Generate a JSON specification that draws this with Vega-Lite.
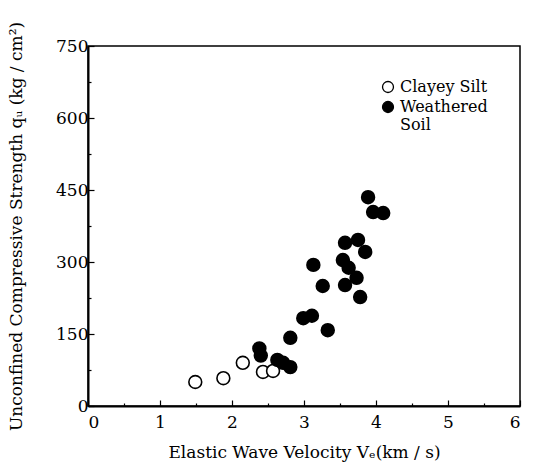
{
  "$schema": "https://vega.github.io/schema/vega-lite/v6.json",
  "autosize": "none",
  "width": 432,
  "height": 360,
  "padding": {"left": 88, "top": 46, "right": 13, "bottom": 66},
  "config": {
    "view": {"stroke": "black", "strokeWidth": 1.5},
    "font": "DejaVu Serif",
    "axis": {
      "domainColor": "black", "domainWidth": 2, "tickColor": "black", "tickWidth": 1.2,
      "labelColor": "black", "labelFont": "DejaVu Serif", "labelFontSize": 17,
      "titleColor": "black", "titleFont": "DejaVu Serif", "titleFontSize": 17, "titleFontWeight": "normal",
      "grid": false
    }
  },
  "data": {"values": [
    {"v": 1.49, "q": 50, "type": "Clayey Silt"},
    {"v": 1.88, "q": 58, "type": "Clayey Silt"},
    {"v": 2.15, "q": 90, "type": "Clayey Silt"},
    {"v": 2.43, "q": 71, "type": "Clayey Silt"},
    {"v": 2.57, "q": 73, "type": "Clayey Silt"},
    {"v": 2.38, "q": 120, "type": "Weathered Soil"},
    {"v": 2.40, "q": 105, "type": "Weathered Soil"},
    {"v": 2.63, "q": 96, "type": "Weathered Soil"},
    {"v": 2.71, "q": 90, "type": "Weathered Soil"},
    {"v": 2.81, "q": 81, "type": "Weathered Soil"},
    {"v": 2.81, "q": 142, "type": "Weathered Soil"},
    {"v": 2.99, "q": 183, "type": "Weathered Soil"},
    {"v": 3.11, "q": 188, "type": "Weathered Soil"},
    {"v": 3.33, "q": 158, "type": "Weathered Soil"},
    {"v": 3.13, "q": 294, "type": "Weathered Soil"},
    {"v": 3.26, "q": 250, "type": "Weathered Soil"},
    {"v": 3.57, "q": 252, "type": "Weathered Soil"},
    {"v": 3.73, "q": 267, "type": "Weathered Soil"},
    {"v": 3.78, "q": 227, "type": "Weathered Soil"},
    {"v": 3.54, "q": 304, "type": "Weathered Soil"},
    {"v": 3.62, "q": 288, "type": "Weathered Soil"},
    {"v": 3.57, "q": 340, "type": "Weathered Soil"},
    {"v": 3.75, "q": 346, "type": "Weathered Soil"},
    {"v": 3.85, "q": 321, "type": "Weathered Soil"},
    {"v": 3.89, "q": 435, "type": "Weathered Soil"},
    {"v": 3.96, "q": 404, "type": "Weathered Soil"},
    {"v": 4.10, "q": 402, "type": "Weathered Soil"}
  ]},
  "mark": {"type": "point", "filled": true, "stroke": "black", "strokeWidth": 1.6, "size": 165, "opacity": 1},
  "encoding": {
    "x": {
      "field": "v", "type": "quantitative",
      "scale": {"domain": [0, 6], "nice": false},
      "axis": {
        "title": "Elastic Wave Velocity V\u2091(km / s)",
        "values": [0, 0.5, 1, 1.5, 2, 2.5, 3, 3.5, 4, 4.5, 5, 5.5, 6],
        "labelExpr": "datum.value % 1 === 0 ? format(datum.value, 'd') : ''",
        "tickSize": {"condition": {"test": "datum.value % 1 !== 0", "value": -3}, "value": -6},
        "labelPadding": 14, "titlePadding": 14
      }
    },
    "y": {
      "field": "q", "type": "quantitative",
      "scale": {"domain": [0, 750], "nice": false},
      "axis": {
        "title": "Unconfined Compressive Strength q\u1d64 (kg / cm\u00b2)",
        "values": [0, 75, 150, 225, 300, 375, 450, 525, 600, 675, 750],
        "labelExpr": "datum.value % 150 === 0 ? datum.label : ''",
        "tickSize": {"condition": {"test": "datum.value % 150 !== 0", "value": -3}, "value": -6},
        "labelPadding": 6, "titlePadding": 30
      }
    },
    "fill": {
      "field": "type", "type": "nominal",
      "scale": {"domain": ["Clayey Silt", "Weathered Soil"], "range": ["white", "black"]},
      "legend": {
        "title": null, "orient": "none", "legendX": 292, "legendY": 33,
        "labelFont": "DejaVu Serif", "labelFontSize": 16, "labelColor": "black",
        "symbolStrokeColor": "black", "symbolStrokeWidth": 1.3, "symbolSize": 120, "symbolType": "circle",
        "labelExpr": "datum.label == 'Weathered Soil' ? ['Weathered', 'Soil'] : datum.label",
        "rowPadding": 2
      }
    }
  }
}
